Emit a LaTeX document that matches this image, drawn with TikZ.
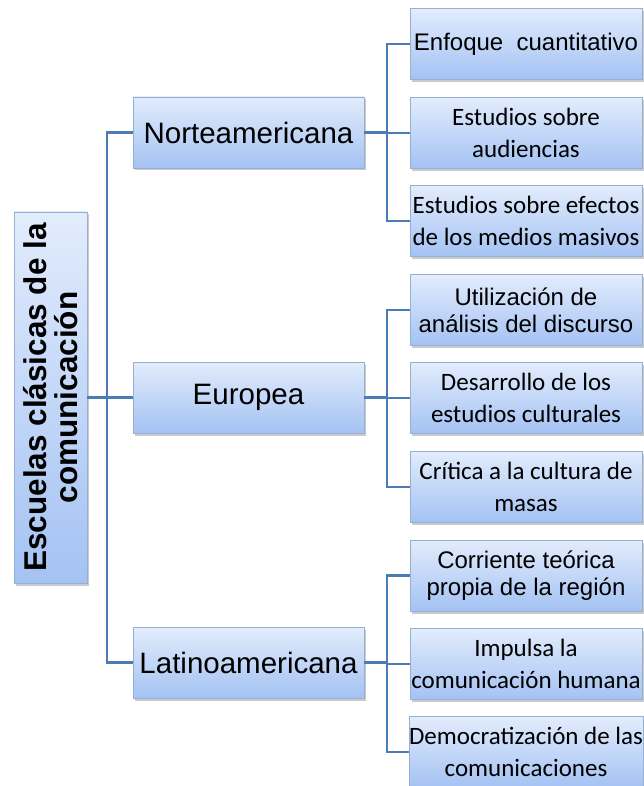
\documentclass[tikz,border=0pt]{standalone}
\usepackage{fontspec}
\setmainfont{Liberation Sans}
\newfontfamily\carl{Carlito}
\usetikzlibrary{shadows}
\definecolor{topc}{RGB}{226,236,252}
\definecolor{botc}{RGB}{164,194,243}
\definecolor{bordc}{RGB}{150,176,212}
\definecolor{linec}{RGB}{74,124,182}
\tikzset{
  box/.style={draw=bordc, line width=0.8pt, top color=topc, bottom color=botc,
    align=center, inner sep=0pt,
    drop shadow={shadow xshift=2pt, shadow yshift=-2.5pt, opacity=0.35, fill=black!60}},
  rootbox/.style={box, minimum width=73pt, minimum height=371pt},
  midbox/.style={box, minimum width=231pt, minimum height=71pt, font=\fontsize{29.5}{32}\selectfont},
  leafbox/.style={box, minimum width=232pt, minimum height=71pt, font=\fontsize{24}{27}\selectfont},
  cleaf/.style={leafbox, font=\carl\fontsize{25}{32}\selectfont},
  conn/.style={draw=linec, line width=2.5pt},
}
\begin{document}
\begin{tikzpicture}[x=1pt,y=1pt]
\useasboundingbox (0,0) rectangle (644,-786);
% nodes
\node[rootbox] (root) at (50.5,-397.5) {};
\node[rotate=90, align=center, font=\bfseries\fontsize{31.5}{31}\selectfont] (roottext) at (root.center) {Escuelas clásicas de la\\comunicación};
\node[midbox] (m1) at (248.5,-132.5) {Norteamericana};
\node[midbox] (m2) at (248.5,-397.5) {Europea};
\node[midbox] (m3) at (248.5,-662.5) {Latinoamericana};
\node[leafbox] (l1) at (526,-44) {Enfoque~ cuantitativo};
\node[cleaf] (l2) at (526,-133) {Estudios sobre\\audiencias};
\node[cleaf] (l3) at (526,-221) {Estudios sobre efectos\\de los medios masivos};
\node[leafbox] (l4) at (526,-310) {Utilización de\\análisis del discurso};
\node[cleaf] (l5) at (526,-398) {Desarrollo de los\\estudios culturales};
\node[cleaf] (l6) at (526,-487) {Crítica a la cultura de\\masas};
\node[leafbox] (l7) at (526,-575.5) {Corriente teórica\\propia de la región};
\node[cleaf] (l8) at (526,-664) {Impulsa la\\comunicación humana};
\node[cleaf] (l9) at (526,-752) {Democratización de las\\comunicaciones};
% bus coordinates
\coordinate (b0) at (107,-397.5);
\coordinate (b1) at (387,0);
% root to mid
\draw[conn] (root.east) -- (b0);
\draw[conn] (m1.west) -| (b0) |- (m3.west);
\draw[conn] (b0) -- (m2.west);
% mid to leaves
\draw[conn] (m1.east) -- (m1.east -| b1);
\draw[conn] (l1.west) -| (l1.west -| b1) |- (l3.west);
\draw[conn] (l2.west) -- (l2.west -| b1);
\draw[conn] (m2.east) -- (m2.east -| b1);
\draw[conn] (l4.west) -| (l4.west -| b1) |- (l6.west);
\draw[conn] (l5.west) -- (l5.west -| b1);
\draw[conn] (m3.east) -- (m3.east -| b1);
\draw[conn] (l7.west) -| (l7.west -| b1) |- (l9.west);
\draw[conn] (l8.west) -- (l8.west -| b1);
\end{tikzpicture}
\end{document}
